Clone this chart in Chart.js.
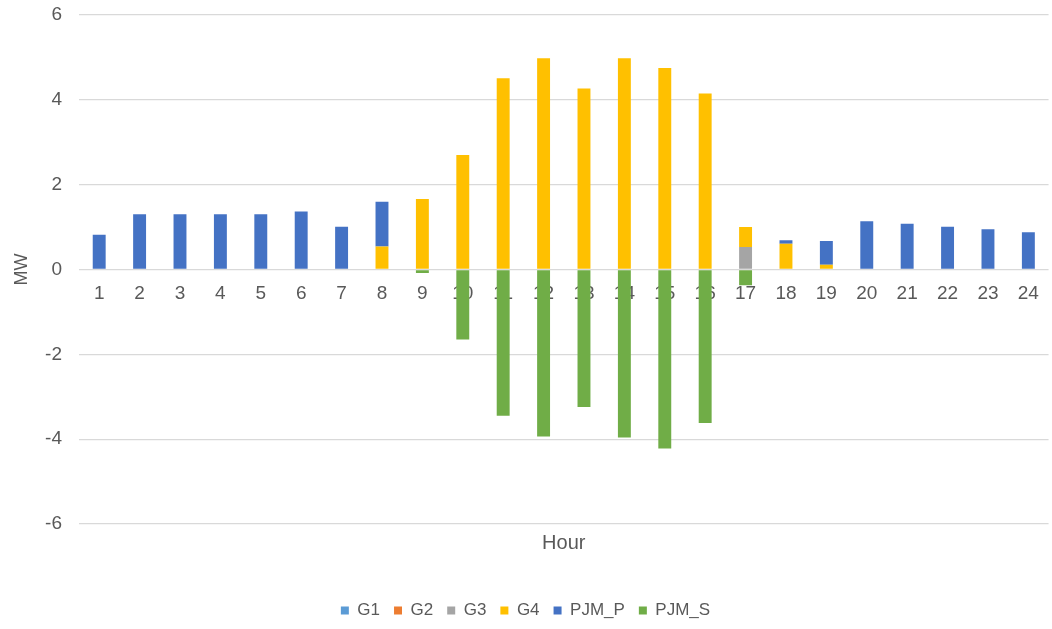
<!DOCTYPE html>
<html>
<head>
<meta charset="utf-8">
<script src="https://cdn.jsdelivr.net/npm/chart.js@4.4.1/dist/chart.umd.min.js"></script>
<style>
  html, body { margin: 0; padding: 0; background: #ffffff; }
  #wrap { width: 1052px; height: 629px; position: relative; }
</style>
</head>
<body>
<div id="wrap"><canvas id="chart"></canvas></div>
<script>
// Hourly dispatch (MW) per unit
const hours = ['1','2','3','4','5','6','7','8','9','10','11','12','13','14','15','16','17','18','19','20','21','22','23','24'];
const g1 = [0,0,0,0,0,0,0,0,0,0,0,0,0,0,0,0,0,0,0,0,0,0,0,0];
const g2 = [0,0,0,0,0,0,0,0,0,0,0,0,0,0,0,0,0,0,0,0,0,0,0,0];
const g3 = [0,0,0,0,0,0,0,0,0,0,0,0,0,0,0,0,0.53,0,0,0,0,0,0,0];
const g4 = [0,0,0,0,0,0,0,0.54,1.66,2.70,4.51,4.98,4.27,4.98,4.75,4.15,0.47,0.61,0.11,0,0,0,0,0];
const pjmP = [0.82,1.30,1.30,1.30,1.30,1.37,1.01,1.06,0,0,0,0,0,0,0,0,0,0.08,0.56,1.14,1.08,1.01,0.95,0.88];
const pjmS = [0,0,0,0,0,0,0,0,-0.08,-1.65,-3.45,-3.94,-3.24,-3.96,-4.22,-3.62,-0.37,0,0,0,0,0,0,0];
const yTicks = [-6,-4,-2,0,2,4,6];

const FONT = "'Liberation Sans', Arial, sans-serif";
const TXT = '#595959';
const GRID = '#d9d9d9';

function series(label, data, color) {
  return {
    label, data,
    backgroundColor: color,
    borderWidth: 0,
    categoryPercentage: 1,
    barPercentage: 0.32,
    xAxisID: 'x', yAxisID: 'y'
  };
}

new Chart(document.getElementById('chart'), {
  type: 'bar',
  data: {
    labels: hours,
    datasets: [
      series('G1', g1, '#5B9BD5'),
      series('G2', g2, '#ED7D31'),
      series('G3', g3, '#A5A5A5'),
      series('G4', g4, '#FFC000'),
      series('PJM_P', pjmP, '#4472C4'),
      series('PJM_S', pjmS, '#70AD47')
    ]
  },
  options: {
    responsive: true,
    maintainAspectRatio: false,
    animation: false,
    layout: { padding: { top: 15, right: 1, bottom: 0, left: 0 } },
    plugins: {
      tooltip: { enabled: false },
      legend: {
        position: 'bottom',
        labels: {
          boxWidth: 8, boxHeight: 8,
          padding: 14,
          color: TXT,
          font: { family: FONT, size: 17 }
        }
      }
    },
    scales: {
      x: {
        type: 'category',
        stacked: true,
        position: { y: 0 },
        grid: { display: false, drawTicks: false },
        border: { display: false },
        ticks: { color: TXT, padding: 13, font: { family: FONT, size: 19 }, maxRotation: 0, autoSkip: false }
      },
      xTitle: {
        type: 'category',
        position: 'bottom',
        labels: hours,
        grid: { display: false, drawTicks: false },
        border: { display: false },
        ticks: { display: false },
        title: { display: true, text: 'Hour', color: TXT, font: { family: FONT, size: 20 }, padding: { top: 6, bottom: 33 } },
        afterFit: (s) => { s.height = 64; }
      },
      y: {
        stacked: true,
        min: -6, max: 6,
        afterBuildTicks: (s) => { s.ticks = yTicks.map(v => ({ value: v })); },
        grid: { color: GRID, lineWidth: 1.3, drawTicks: false },
        border: { display: false },
        ticks: { color: TXT, padding: 17, font: { family: FONT, size: 19 } },
        title: { display: true, text: 'MW', color: TXT, font: { family: FONT, size: 18 }, padding: { top: 11, bottom: 0 } },
        afterFit: (s) => { s.width = 79; s.paddingTop = 0; s.paddingBottom = 0; }
      }
    }
  }
});
</script>
</body>
</html>
